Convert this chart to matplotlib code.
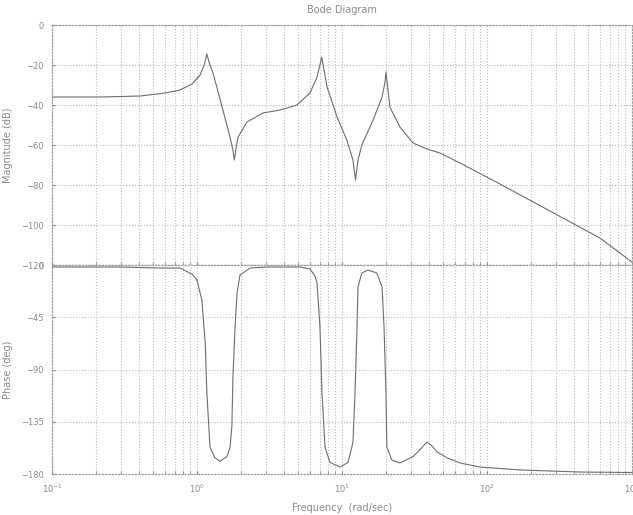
import numpy as np
import matplotlib.pyplot as plt

# magnitude response, read point by point
w_mag = [0.1, 0.214, 0.405, 0.601, 0.764, 0.924, 1.05, 1.12, 1.17, 1.21, 1.29,
         1.51, 1.69, 1.77, 1.81, 1.86, 1.92, 2.21, 2.85, 3.74, 4.89, 6.01, 6.73,
         7.25, 7.52, 7.89, 9.25, 10.8, 11.9, 12.4, 12.9, 13.7, 16.4, 18.9, 19.8,
         20.1, 20.7, 21.4, 25.1, 30.9, 38.6, 47.4, 65.2, 123, 272, 601, 1000]
mag_db = [-36, -36, -35.5, -34, -32.5, -29.5, -25, -20, -14.5, -18.5, -24,
          -42.5, -56, -62.5, -67.5, -61.5, -56, -48.5, -44, -42.5, -40, -34, -26,
          -16, -22.5, -31, -46, -57.5, -67.5, -77.5, -67.5, -60, -47.5, -36, -28.5,
          -23.5, -31.5, -41, -51, -59, -62, -64, -69, -79.5, -93, -106.5, -118.5]

# phase response
w_ph = [0.1, 0.294, 0.556, 0.764, 0.924, 1.0, 1.08, 1.14, 1.17, 1.23, 1.33,
        1.44, 1.61, 1.69, 1.74, 1.77, 1.83, 1.89, 1.98, 2.32, 3.04, 5.13, 6.01,
        6.52, 6.73, 7.05, 7.28, 7.64, 8.26, 9.69, 11.0, 11.9, 12.3, 12.7, 12.9,
        13.7, 15.1, 17.4, 18.9, 19.5, 20.1, 20.4, 22.1, 25.1, 30.9, 34.5, 38.6,
        41.8, 45.2, 53.0, 65.2, 89.5, 169, 438, 1000]
phase_deg = [-1.7, -1.7, -2.6, -2.6, -7.8, -12.9, -30, -67, -110, -157, -166,
             -169, -165, -157, -139.5, -96.5, -53.4, -24, -8.6, -2.6, -1.7, -1.7, -3.4,
             -9.5, -15.5, -53.4, -110, -157, -170, -174, -170, -153, -110, -53.4, -19,
             -6.9, -4.3, -6.9, -19, -53.4, -110, -157, -168, -170.5, -165, -159, -152.4,
             -156, -161, -166, -170.5, -174, -176.5, -178.3, -178.7]

mag_ticks = [0, -20, -40, -60, -80, -100, -120]
phase_ticks = [0, -45, -90, -135, -180]
freq_ticks = [1e-1, 1e0, 1e1, 1e2, 1e3]

txt = '#8a8a8a'
grid_col = '#b8b8b8'
line_col = '#6e6e6e'

plt.rcParams['font.family'] = 'DejaVu Sans'
fig = plt.figure(figsize=(6.33, 5.15), dpi=100)
ax1 = fig.add_axes([0.0821, 0.4854, 0.9163, 0.4660])
ax2 = fig.add_axes([0.0821, 0.0796, 0.9163, 0.4058])

for ax in (ax1, ax2):
    ax.set_xscale('log')
    ax.set_xlim(1e-1, 1e3)
    ax.set_xticks(freq_ticks)
    ax.grid(True, which='major', color=grid_col, linestyle=':', linewidth=0.8)
    ax.grid(True, which='minor', axis='x', color=grid_col, linestyle=':', linewidth=0.8)
    ax.tick_params(which='both', colors=txt, labelsize=6, length=2, direction='in', pad=6)
    for s in ax.spines.values():
        s.set_color('#a0a0a0')
        s.set_linestyle(':')
        s.set_linewidth(0.9)

ax1.plot(w_mag, mag_db, color=line_col, linewidth=0.8)
ax1.set_ylim(-120, 0)
ax1.set_yticks(mag_ticks)
ax1.tick_params(labelbottom=False)
ax1.set_ylabel('Magnitude (dB)', color=txt, fontsize=7)
ax1.yaxis.set_label_coords(-0.068, 0.5)
ax1.set_title('Bode Diagram', color=txt, fontsize=7, pad=9)

ax2.plot(w_ph, phase_deg, color=line_col, linewidth=0.8)
ax2.set_ylim(-180, 0)
ax2.set_yticks(phase_ticks)
ax2.set_ylabel('Phase (deg)', color=txt, fontsize=7)
ax2.yaxis.set_label_coords(-0.068, 0.5)
ax2.set_xlabel('Frequency  (rad/sec)', color=txt, fontsize=7)
ax2.xaxis.set_label_coords(0.5, -0.14)

fig.savefig('out.png', dpi=100)
